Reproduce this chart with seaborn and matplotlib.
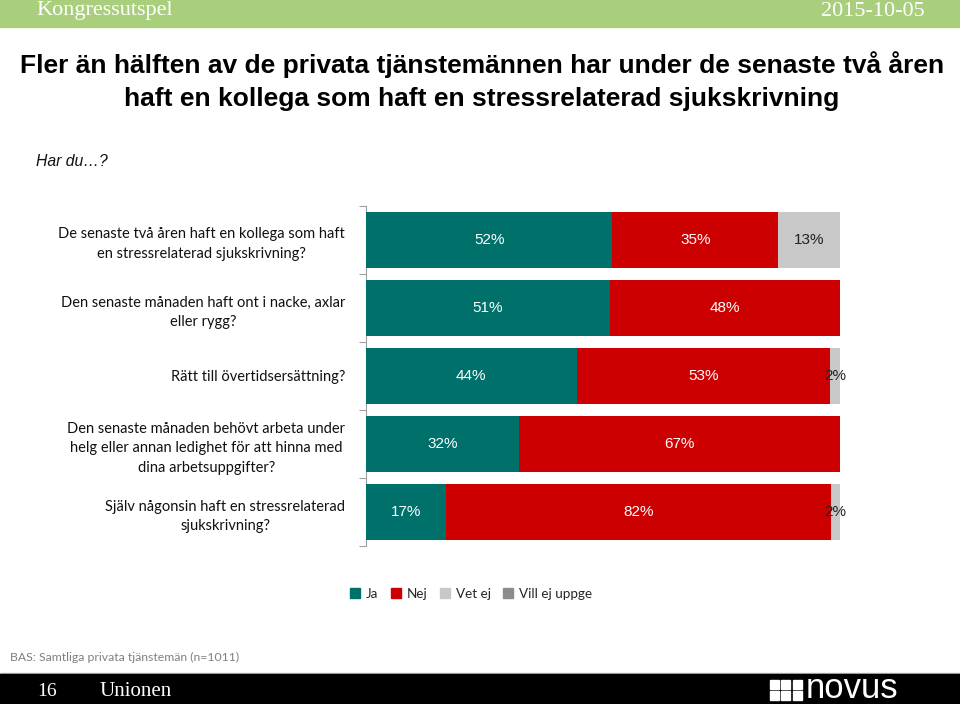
import matplotlib
matplotlib.use("Agg")
import matplotlib.pyplot as plt
import seaborn as sns
import pandas as pd
import numpy as np
from matplotlib.patches import Rectangle

# ---- data ----
questions = [
    "De senaste två åren haft en kollega som haft\nen stressrelaterad sjukskrivning?",
    "Den senaste månaden haft ont i nacke, axlar\neller rygg?",
    "Rätt till övertidsersättning?",
    "Den senaste månaden behövt arbeta under\nhelg eller annan ledighet för att hinna med\ndina arbetsuppgifter?",
    "Själv någonsin haft en stressrelaterad\nsjukskrivning?",
]
series_names = ["Ja", "Nej", "Vet ej", "Vill ej uppge"]
ja = [52, 51, 44, 32, 17]
nej = [35, 48, 53, 67, 82]
vet_ej = [13, 0, 2, 0, 2]
vill_ej = [0, 0, 0, 0, 0]
colors = ["#00706B", "#CC0000", "#C8C8C8", "#8C8C8C"]
label_colors = ["white", "white", "#222222", "#222222"]

title = ("Fler än hälften av de privata tjänstemännen har under de senaste två åren\n"
         "haft en kollega som haft en stressrelaterad sjukskrivning")

W, H = 960, 704
fig = plt.figure(figsize=(W / 100, H / 100), dpi=100)
sns.set_style("white")
plt.rcParams["font.family"] = ["Liberation Sans", "DejaVu Sans"]

def fx(px): return px / W
def fy(py): return 1 - py / H

# header band
fig.patches.append(Rectangle((0, fy(27)), 1, 27 / H, transform=fig.transFigure,
                             color="#A9CF7C", zorder=0))
fig.text(fx(36), fy(11), "Kongressutspel", color="white", fontsize=16,
         family="Liberation Serif", va="center", ha="left")
fig.text(fx(925), fy(11), "2015-10-05", color="white", fontsize=16,
         family="Liberation Serif", va="center", ha="right")

fig.text(fx(482), fy(81), title, ha="center", va="center", fontsize=19,
         fontweight="bold", color="black", linespacing=1.45)
fig.text(fx(36), fy(161), "Har du…?", fontsize=11.3, style="italic", va="center",
         ha="left", color="#111111")

# ---- chart ----
ax = fig.add_axes([fx(366), fy(546), fx(840) - fx(366), (546 - 206) / H])
vals = np.array([ja, nej, vet_ej, vill_ej], dtype=float)
totals = vals.sum(axis=0)
norm = vals / totals * 100
cum = np.cumsum(norm, axis=0)

df = pd.DataFrame({"q": questions})
for k in range(len(series_names) - 1, -1, -1):
    df["v"] = cum[k]
    sns.barplot(data=df, x="v", y="q", orient="h", color=colors[k],
                width=0.82, ax=ax, saturation=1, linewidth=0, zorder=2 + (4 - k))

starts = np.vstack([np.zeros(len(questions)), cum[:-1]])
for k in range(len(series_names)):
    for i in range(len(questions)):
        if vals[k, i] > 0:
            ax.text(starts[k, i] + norm[k, i] / 2, i, f"{int(vals[k, i])}%",
                    ha="center", va="center", fontsize=11, color=label_colors[k],
                    zorder=10)

ax.set_xlim(0, 100)
ax.set_ylim(4.5, -0.5)
ax.set_xlabel("")
ax.set_ylabel("")
ax.set_xticks([])
for s in ["top", "right", "bottom"]:
    ax.spines[s].set_visible(False)
ax.spines["left"].set_color("#A0A0A0")
ax.spines["left"].set_linewidth(0.8)
ax.tick_params(axis="y", which="major", length=0, pad=15)
ax.set_yticks(np.arange(-0.5, 5.0, 1.0), minor=True)
ax.tick_params(axis="y", which="minor", left=True, length=5, width=0.8,
               color="#A0A0A0", direction="out")
for lab in ax.get_yticklabels():
    lab.set_family(["Lato", "DejaVu Sans"])
    lab.set_fontsize(10.5)
    lab.set_ha("right")
    lab.set_multialignment("center")
    lab.set_color("#111111")
    lab.set_linespacing(1.5)

# legend
handles = [Rectangle((0, 0), 1, 1, color=c) for c in colors]
fig.legend(handles, series_names, loc="center", bbox_to_anchor=(fx(471), fy(594)),
           ncol=4, frameon=False, prop={"family": ["Lato", "DejaVu Sans"], "size": 9.7},
           handlelength=0.75, handleheight=0.75, handletextpad=0.45, columnspacing=0.9)

# footer
fig.text(fx(10), fy(657), "BAS: Samtliga privata tjänstemän (n=1011)", fontsize=8.8,
         color="#808080", family=["Lato", "DejaVu Sans"], va="center")
fig.patches.append(Rectangle((0, fy(673.5)), 1, 1 / H, transform=fig.transFigure,
                             color="#C0C0C0", zorder=0))
fig.patches.append(Rectangle((0, 0), 1, (704 - 674) / H, transform=fig.transFigure,
                             color="black", zorder=0))
fig.text(fx(37), fy(691), "16", color="white", fontsize=14, family="Liberation Serif",
         va="center")
fig.text(fx(100), fy(692), "Unionen", color="white", fontsize=15,
         family="Liberation Serif", va="center")
for cx in [770, 781, 793]:
    for ry in [680, 691]:
        fig.patches.append(Rectangle((fx(cx), fy(ry + 9)), 9 / W, 9 / H,
                                     transform=fig.transFigure, color="white", zorder=1))
fig.text(fx(806), fy(689), "novus", color="white", fontsize=25,
         family="Liberation Sans", va="center", ha="left")

fig.savefig("out.png", dpi=100)
